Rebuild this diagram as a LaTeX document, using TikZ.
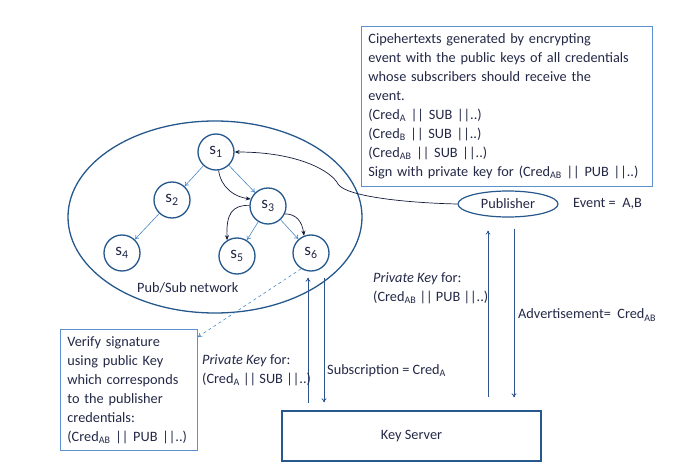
\documentclass[tikz,border=0pt]{standalone}
\usepackage{fontspec}
\setmainfont{Carlito}
\usetikzlibrary{arrows.meta,shapes.geometric,calc}
\definecolor{txt}{RGB}{35,40,70}
\definecolor{ringcol}{RGB}{37,88,140}
\definecolor{boxcol}{RGB}{91,145,205}
\definecolor{lightedge}{RGB}{75,135,200}
\definecolor{darkedge}{RGB}{20,28,60}
\definecolor{keyline}{RGB}{45,85,140}
\tikzset{
  snode/.style={circle, draw=ringcol, line width=1.3pt, minimum size=36pt, inner sep=0pt, font=\fontsize{17}{20}\selectfont},
  treeedge/.style={draw=lightedge, line width=0.6pt, -{To[length=4pt,width=5pt]}},
  flowedge/.style={draw=darkedge, line width=0.7pt, -{Stealth[length=5pt,width=4pt]}},
  keyarrow/.style={draw=keyline, line width=0.8pt, -{To[length=4pt,width=5pt]}},
  infobox/.style={draw=boxcol, line width=0.8pt, align=left, anchor=north west, inner ysep=2pt},
  lbl/.style={inner sep=0pt, align=left, anchor=west}
}
\begin{document}
\begin{tikzpicture}[x=1pt,y=-1pt, font=\fontsize{14.3}{19}\selectfont, text=txt]
\useasboundingbox (0,0) rectangle (697,476);

% network ellipse
\node[ellipse, draw=ringcol, line width=1.3pt, minimum width=294pt, minimum height=192pt, inner sep=0pt] (net) at (215,217) {};
\node[lbl] (netlbl) at (137,288) {Pub/Sub network};

% brokers
\node[snode] (s1) at (216,152) {s\textsubscript{1}};
\node[snode] (s2) at (172,200) {s\textsubscript{2}};
\node[snode] (s3) at (268,206) {s\textsubscript{3}};
\node[snode] (s4) at (122,253) {s\textsubscript{4}};
\node[snode] (s5) at (237,256) {s\textsubscript{5}};
\node[snode] (s6) at (311,253) {s\textsubscript{6}};

\draw[treeedge] (s1) -- (s2);
\draw[treeedge] (s1) -- (s3);
\draw[treeedge] (s2) -- (s4);
\draw[treeedge] (s3) -- (s5);
\draw[treeedge] (s3) -- (s6);

\draw[flowedge] (s1.-82) .. controls (221,188) and (235,197) .. (s3.158);
\draw[flowedge] (s3.178) .. controls (232,205) and (226,214) .. (s5.122);
\draw[flowedge] (s3.-25) .. controls (296,214) and (302,221) .. (s6.112);

% publisher
\node[ellipse, draw=ringcol, line width=1.2pt, minimum width=100pt, minimum height=26pt, inner sep=0pt] (pub) at (508,204) {Publisher};
\node[lbl] (ev) at (573,204) {Event =\ \ A,B};

\draw[flowedge] (pub.west) .. controls (410,203) and (346,197) .. (338,184)
  .. controls (332,172) and (300,152) .. (s1.east);

% ciphertext box
\node[infobox, minimum width=291pt, minimum height=160pt, text width=277pt, inner xsep=7pt] (cbox) at (361,26)
{Cipehertexts generated by encrypting\\
event with the public keys of all credentials\\
whose subscribers should receive the\\
event.\\
(Cred\textsubscript{A} || SUB ||..)\\
(Cred\textsubscript{B} || SUB ||..)\\
(Cred\textsubscript{AB} || SUB ||..)\\
Sign with private key for (Cred\textsubscript{AB} || PUB ||..)};

% key server
\node[draw=ringcol, line width=1.3pt, minimum width=259pt, minimum height=50pt] (ks) at (411.5,436) {Key Server};

% verify box
\node[infobox, minimum width=137pt, minimum height=121pt, text width=123pt, inner xsep=7pt] (vbox) at (60,329)
{Verify signature\\
using public Key\\
which corresponds\\
to the publisher\\
credentials:\\
(Cred\textsubscript{AB} || PUB ||..)};

\draw[draw=lightedge, line width=0.6pt, dashed, -{To[length=4pt,width=5pt]}] (s6.238) -- ([yshift=-8pt]vbox.north east);

% arrows between key server and subscriber s6
\draw[keyarrow, shorten <=7pt, shorten >=6pt] ([xshift=-103.5pt]ks.north) -- ([xshift=-3pt]s6.south);
\draw[keyarrow, shorten <=6pt, shorten >=8pt] ([xshift=13pt]s6.south) -- ([xshift=-87.5pt]ks.north);

% arrows between key server and publisher
\draw[keyarrow, shorten <=13pt, shorten >=13pt] ([xshift=76.5pt]ks.north) -- ([xshift=-20pt]pub.south);
\draw[keyarrow, shorten <=11pt, shorten >=13pt] ([xshift=6pt]pub.south) -- ([xshift=102.5pt]ks.north);

% labels
\node[lbl] (pkA) at (202,370.5) {\textit{Private Key} for:\\(Cred\textsubscript{A} || SUB ||..)};
\node[lbl] (subA) at (327,371) {Subscription = Cred\textsubscript{A}};
\node[lbl] (pkAB) at (373,288.5) {\textit{Private Key} for:\\(Cred\textsubscript{AB} || PUB ||..)};
\node[lbl] (adv) at (518,315) {Advertisement=\ \ Cred\textsubscript{AB}};
\end{tikzpicture}
\end{document}
